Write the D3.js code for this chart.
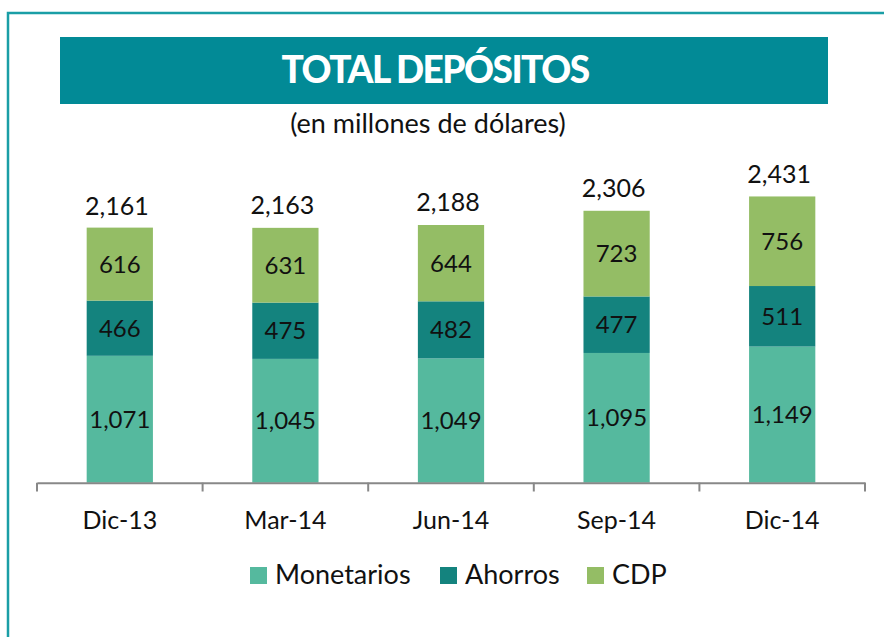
<!DOCTYPE html>
<html><head><meta charset="utf-8">
<script src="https://cdn.jsdelivr.net/npm/d3@7"></script>
<style>body{margin:0;background:#fff}svg{display:block}</style>
</head><body>
<svg id="c" width="884" height="637"></svg>
<script>
const categories = ["Dic-13","Mar-14","Jun-14","Sep-14","Dic-14"];
const monetarios = [1071,1045,1049,1095,1149];
const ahorros = [466,475,482,477,511];
const cdp = [616,631,644,723,756];
const totals = [2161,2163,2188,2306,2431];
const seriesNames = ["Monetarios","Ahorros","CDP"];
const colors = ["#55B99E","#14837E","#94BD65"];

const svg = d3.select("#c");
const font = "Lato, 'Open Sans', sans-serif";

// frame
svg.append("rect").attr("x",8).attr("y",13).attr("width",900).attr("height",700)
  .attr("fill","none").attr("stroke","#1A9EA6").attr("stroke-width",2.5);

// title banner
svg.append("rect").attr("x",60).attr("y",37).attr("width",768).attr("height",67).attr("fill","#028A96");
svg.append("text").attr("x",435).attr("y",83).attr("text-anchor","middle")
  .attr("font-family",font).attr("font-weight",900).attr("font-size",37)
  .attr("letter-spacing",-1.5).attr("fill","#fff").text("TOTAL DEPÓSITOS");
svg.append("text").attr("x",428).attr("y",133).attr("text-anchor","middle")
  .attr("font-family",font).attr("font-size",27).attr("fill","#111").text("(en millones de dólares)");

const x = d3.scaleBand().domain(categories).range([37,865]).padding(0);
const barW = x.bandwidth()*0.4;
const y = d3.scaleLinear().domain([0,2500]).range([482.7,186.5]);

const data = categories.map((c,i)=>({cat:c,Monetarios:monetarios[i],Ahorros:ahorros[i],CDP:cdp[i],total:totals[i]}));
const stack = d3.stack().keys(seriesNames)(data);

const g = svg.append("g");
stack.forEach((s,si)=>{
  g.selectAll(null).data(s).enter().append("rect")
    .attr("x",d=>x(d.data.cat)+(x.bandwidth()-barW)/2)
    .attr("y",d=>y(d[1])).attr("width",barW).attr("height",d=>y(d[0])-y(d[1]))
    .attr("fill",colors[si]);
  g.selectAll(null).data(s).enter().append("text")
    .attr("x",d=>x(d.data.cat)+x.bandwidth()/2)
    .attr("y",d=>(y(d[0])+y(d[1]))/2+8.5)
    .attr("text-anchor","middle").attr("font-family",font).attr("font-size",24).attr("fill","#111")
    .text(d=>d3.format(",")(d[1]-d[0]));
});
g.selectAll(null).data(data).enter().append("text")
  .attr("x",d=>x(d.cat)+x.bandwidth()/2-3)
  .attr("y",d=>y(d.total)-12)
  .attr("text-anchor","middle").attr("font-family",font).attr("font-size",25).attr("fill","#111")
  .text(d=>d3.format(",")(d.total));

// axis
const ax = svg.append("g").attr("transform","translate(0,482.7)")
  .call(d3.axisBottom(x).tickSize(0).tickFormat(""));
ax.select(".domain").attr("stroke","#888").attr("stroke-width",2);
const tickXs = categories.map(c=>x(c)).concat([x(categories[categories.length-1])+x.bandwidth()]);
svg.selectAll(null).data(tickXs).enter().append("line")
  .attr("x1",d=>d).attr("x2",d=>d).attr("y1",482.7).attr("y2",491.5)
  .attr("stroke","#888").attr("stroke-width",2);
svg.selectAll(null).data(categories).enter().append("text")
  .attr("x",c=>x(c)+x.bandwidth()/2).attr("y",529)
  .attr("text-anchor","middle").attr("font-family",font).attr("font-size",25).attr("fill","#111")
  .text(c=>c);

// legend
const legX = [250,440,587];
const lg = svg.append("g");
seriesNames.forEach((n,i)=>{
  lg.append("rect").attr("x",legX[i]).attr("y",567).attr("width",17).attr("height",17).attr("fill",colors[i]);
  lg.append("text").attr("x",legX[i]+25).attr("y",584).attr("font-family",font).attr("font-size",27)
    .attr("fill","#111").text(n);
});
</script>
</body></html>
